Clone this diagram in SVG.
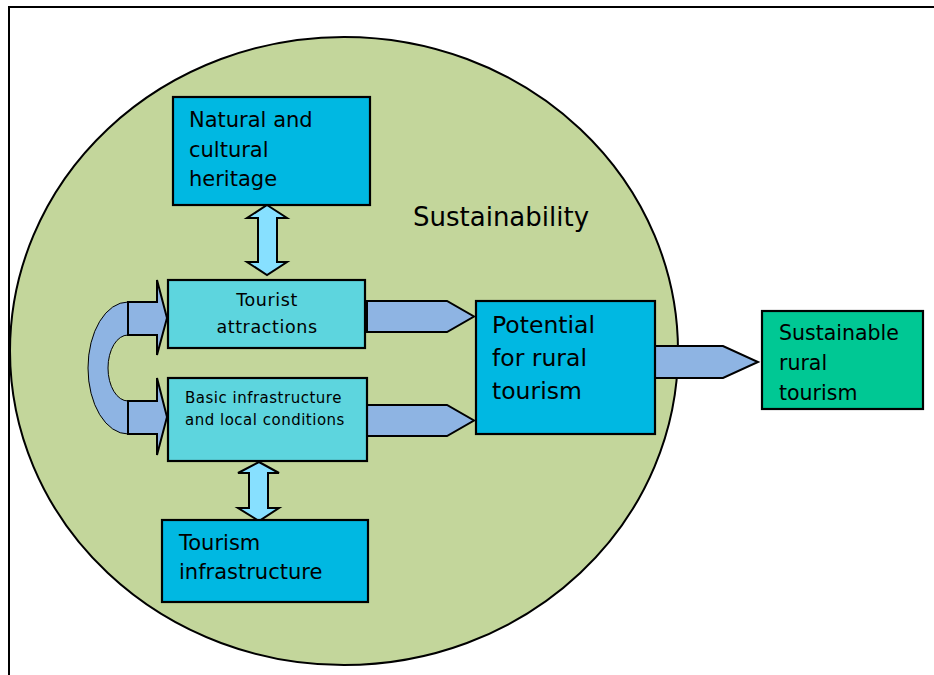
<svg xmlns="http://www.w3.org/2000/svg" width="934" height="675" viewBox="0 0 934 675">
  <style>
    .box { stroke: #000; stroke-width: 2.2; }
    .heritage { fill: #00B8E2; }
    .inner { fill: #5DD5DE; }
    .goal { fill: #00C894; }
    .block { fill: #8EB4E3; stroke: #000; stroke-width: 2; stroke-linejoin: miter; }
    .dbl { fill: #87E0FF; stroke: #000; stroke-width: 2; }
    text { font-family: "DejaVu Sans", Verdana, sans-serif; fill: #000; }
  </style>
  <rect x="0" y="0" width="934" height="675" fill="#fff"/>
  <!-- frame -->
  <path d="M9 675 V7 H934" fill="none" stroke="#000" stroke-width="2"/>

  <!-- sustainability field -->
  <g id="sustainability">
    <ellipse cx="344" cy="351" rx="334" ry="314" fill="#C3D69B" stroke="#000" stroke-width="2"/>
    <text x="413" y="226" font-size="26">Sustainability</text>
  </g>

  <g id="connectors">
    <!-- loop between attractions and infrastructure -->
    <path d="M128 302 A40 66 0 0 0 128 434 L128 401 A20 33 0 0 1 128 335 Z" fill="#8EB4E3" stroke="#000" stroke-width="1"/>
    <polygon class="block" points="128,302 157,302 157,280 167,318 157,355 157,335 128,335"/>
    <polygon class="block" points="128,401 157,401 157,378 167,417 157,455 157,434 128,434"/>
    <!-- into potential -->
    <polygon class="block" points="367,301 447,301 474,316.5 447,332 367,332"/>
    <polygon class="block" points="367,405 447,405 474,420.5 447,436 367,436"/>
    <!-- to sustainable rural tourism -->
    <polygon class="block" points="655,346 723,346 758,362 723,378 655,378"/>
    <!-- two-way links -->
    <polygon class="dbl" points="267,205 287,218 277,218 277,262 287,262 267,275 247,262 258,262 258,218 247,218"/>
    <polygon class="dbl" points="259,462 279,473 268,473 268,508 279,508 259,521 238,508 249,508 249,473 238,473"/>
  </g>

  <g id="heritage">
    <rect class="box heritage" x="173" y="97" width="197" height="108"/>
    <text x="189" y="127" font-size="21">Natural and</text>
    <text x="189" y="157" font-size="21">cultural</text>
    <text x="189" y="186" font-size="21">heritage</text>
  </g>

  <g id="attractions">
    <rect class="box inner" x="168" y="280" width="197" height="68"/>
    <text x="267" y="306" font-size="17.5" letter-spacing="0.6" text-anchor="middle">Tourist</text>
    <text x="267" y="333" font-size="17.5" letter-spacing="0.6" text-anchor="middle">attractions</text>
  </g>

  <g id="basic-infrastructure">
    <rect class="box inner" x="168" y="378" width="199" height="83"/>
    <text x="185" y="403" font-size="15" letter-spacing="0.5">Basic infrastructure</text>
    <text x="185" y="425" font-size="15" letter-spacing="0.5">and local conditions</text>
  </g>

  <g id="tourism-infrastructure">
    <rect class="box heritage" x="162" y="520" width="206" height="82"/>
    <text x="179" y="550" font-size="21">Tourism</text>
    <text x="179" y="579" font-size="21">infrastructure</text>
  </g>

  <g id="potential">
    <rect class="box heritage" x="476" y="301" width="179" height="133"/>
    <text x="492" y="333" font-size="23.5">Potential</text>
    <text x="492" y="366" font-size="23.5">for rural</text>
    <text x="492" y="399" font-size="23.5">tourism</text>
  </g>

  <g id="sustainable-rural-tourism">
    <rect class="box goal" x="762" y="311" width="161" height="98"/>
    <text x="779" y="340" font-size="20.5">Sustainable</text>
    <text x="779" y="370" font-size="20.5">rural</text>
    <text x="779" y="400" font-size="20.5">tourism</text>
  </g>
</svg>
